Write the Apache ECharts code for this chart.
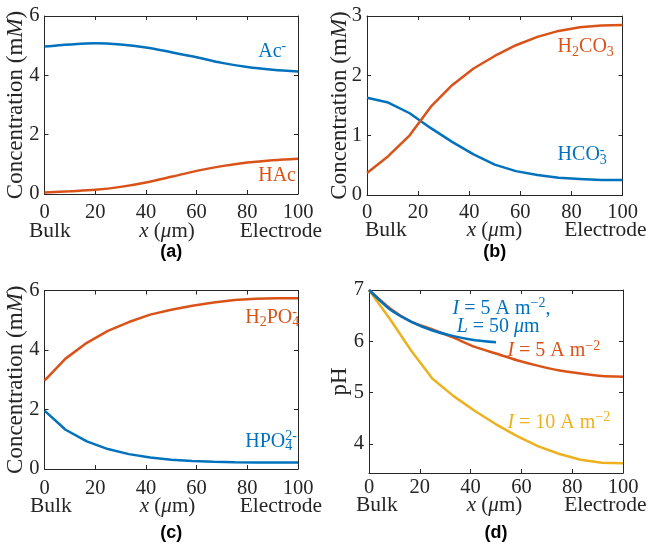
<!DOCTYPE html>
<html><head><meta charset="utf-8">
<script src="https://cdn.jsdelivr.net/npm/echarts@6/dist/echarts.min.js"></script>
<style>html,body{margin:0;padding:0;background:#fff}#c{width:650px;height:547px}</style>
</head><body><div id="c"></div>
<script>
// ---- data ----
const xA = [0, 10, 20, 30, 40, 50, 60, 70, 80, 90, 100];
const acMinus = [4.97, 5.04, 5.08, 5.04, 4.94, 4.78, 4.61, 4.42, 4.28, 4.19, 4.13];
const hAc = [0.05, 0.09, 0.14, 0.24, 0.39, 0.58, 0.78, 0.94, 1.06, 1.14, 1.19];
const xN = [0, 8.3, 16.7, 25, 33.3, 41.7, 50, 58.3, 66.7, 75, 83.3, 91.7, 100];
const h2co3 = [0.37, 0.65, 1.0, 1.48, 1.84, 2.12, 2.33, 2.51, 2.65, 2.75, 2.81, 2.84, 2.85];
const hco3 = [1.63, 1.55, 1.37, 1.12, 0.89, 0.68, 0.51, 0.40, 0.335, 0.29, 0.27, 0.25, 0.25];
const h2po4 = [2.97, 3.71, 4.24, 4.64, 4.94, 5.19, 5.35, 5.49, 5.60, 5.68, 5.72, 5.74, 5.74];
const hpo4 = [1.96, 1.32, 0.93, 0.67, 0.50, 0.39, 0.31, 0.27, 0.245, 0.23, 0.22, 0.22, 0.22];
const pH5 = [7.0, 6.64, 6.38, 6.23, 6.07, 5.89, 5.76, 5.63, 5.52, 5.43, 5.37, 5.32, 5.31];
const xL50 = [0, 8.3, 16.7, 25, 33.3, 41.7, 50];
const pH5L50 = [7.0, 6.62, 6.38, 6.21, 6.10, 6.02, 5.98];
const pH10 = [7.0, 6.43, 5.81, 5.27, 4.93, 4.64, 4.38, 4.15, 3.95, 3.80, 3.69, 3.63, 3.62];
const xTickLabels = [0, 20, 40, 60, 80, 100];
const pHTicks = [4, 5, 6, 7];
const panelLabels = ['(a)', '(b)', '(c)', '(d)'];

// ---- style ----
const F = 'Liberation Serif';
const AX = '#262626';
const BLUE = '#0072BD', ORANGE = '#D95319', YELLOW = '#EDB120';

const grids = [
  {left: 44.5, top: 16, width: 253.5, height: 178},
  {left: 367, top: 16, width: 255.5, height: 179},
  {left: 44.5, top: 290.5, width: 253.5, height: 178.5},
  {left: 369, top: 290, width: 254, height: 183}
];
const xLabelMargin = [8, 7, 9, 4];
const yRanges = [
  {min: 0, max: 6, interval: 2},
  {min: 0, max: 3, interval: 1},
  {min: 0, max: 6, interval: 2},
  {min: 3.43, max: 7, custom: pHTicks}
];

const pairs = (xs, ys) => xs.map((x, i) => [x, ys[i]]);

const xAxes = [], yAxes = [];
grids.forEach((g, i) => {
  const common = {
    gridIndex: i, type: 'value', min: 0, max: 100, interval: 20,
    axisLine: {show: true, onZero: false, lineStyle: {color: AX, width: 1}},
    axisTick: {show: true, inside: true, length: 4, lineStyle: {color: AX}},
    splitLine: {show: false}
  };
  xAxes.push(Object.assign({}, common, {position: 'bottom',
    axisLabel: {show: true, margin: xLabelMargin[i], fontFamily: F, fontSize: 20.5, color: AX,
      formatter: v => xTickLabels.includes(v) ? String(v) : ''}}));
  xAxes.push(Object.assign({}, common, {position: 'top', axisLabel: {show: false}}));
});
grids.forEach((g, i) => {
  const r = yRanges[i];
  const common = {
    gridIndex: i, type: 'value', min: r.min, max: r.max,
    axisLine: {show: true, onZero: false, lineStyle: {color: AX, width: 1}},
    axisTick: {show: true, inside: true, length: 4, lineStyle: {color: AX}},
    splitLine: {show: false}
  };
  if (r.interval) common.interval = r.interval;
  if (r.custom) common.axisTick.customValues = r.custom;
  const lab = {show: true, margin: 5, fontFamily: F, fontSize: 20.5, color: AX};
  if (r.custom) lab.customValues = r.custom;
  yAxes.push(Object.assign({}, common, {position: 'left', axisLabel: lab}));
  yAxes.push(Object.assign({}, common, {position: 'right', axisLabel: {show: false}}));
});
// primary axes are at even indices
const line = (g, xs, ys, color, smooth) => ({
  type: 'line', xAxisIndex: 2 * g, yAxisIndex: 2 * g, data: pairs(xs, ys),
  showSymbol: false, smooth: smooth || false, lineStyle: {color, width: 2.5},
  itemStyle: {color}, animation: false, z: 3
});

const series = [
  line(0, xA, acMinus, BLUE, 0.35),
  line(0, xA, hAc, ORANGE, 0.35),
  line(1, xN, hco3, BLUE, false),
  line(1, xN, h2co3, ORANGE, false),
  line(2, xN, hpo4, BLUE, false),
  line(2, xN, h2po4, ORANGE, false),
  line(3, xN, pH10, YELLOW, false),
  line(3, xN, pH5, ORANGE, 0.2),
  line(3, xL50, pH5L50, BLUE, 0.2)
];

const chart = echarts.init(document.getElementById('c'), null, {renderer: 'canvas'});
chart.setOption({animation: false, backgroundColor: '#fff', grid: grids, xAxis: xAxes, yAxis: yAxes, series});

function richFor(c, size) {
  const s = size || 20;
  const ss = Math.round(s * 0.7);
  return {
    n: {fontFamily: F, fontSize: s, lineHeight: s + 4, fill: c, color: c},
    i: {fontFamily: F, fontSize: s, lineHeight: s + 4, fontStyle: 'italic', fill: c, color: c},
    sb: {fontFamily: F, fontSize: ss, lineHeight: ss, verticalAlign: 'bottom', fill: c, color: c},
    sp: {fontFamily: F, fontSize: ss, lineHeight: ss, verticalAlign: 'top', fill: c, color: c},
    sp0: {fontFamily: F, fontSize: ss, lineHeight: ss, verticalAlign: 'top', width: 0, fill: c, color: c}
  };
}
function txt(x, y, text, color, opt) {
  opt = opt || {};
  return {
    type: 'text', x, y, rotation: opt.rot || 0, silent: true, z: 10,
    style: {text, rich: richFor(color, opt.size), fill: color, fontFamily: F,
      fontSize: opt.size || 20,
      align: opt.align || 'left', verticalAlign: 'middle',
      textAlign: opt.align || 'left', textVerticalAlign: 'middle'}
  };
}
function at(g, x, y) { return chart.convertToPixel({xAxisIndex: 2 * g, yAxisIndex: 2 * g}, [x, y]); }

const annotations = [
  [0, 84.3, 4.8, '{n|Ac}{sp|-}', BLUE],
  [0, 84.3, 0.61, '{n|HAc}', ORANGE],
  [1, 74.6, 2.48, '{n|H}{sb|2}{n|CO}{sb|3}', ORANGE],
  [1, 74.6, 0.67, '{n|HCO}{sp0|-}{sb|3}', BLUE],
  [2, 79.2, 5.1, '{n|H}{sb|2}{n|PO}{sp0|-}{sb|4}', ORANGE],
  [2, 79.2, 0.92, '{n|HPO}{sp0|2-}{sb|4}', BLUE],
  [3, 32.9, 6.64, '{i|I}{n| = 5 A m}{sp|−2}{n|,}', BLUE],
  [3, 34.5, 6.28, '{i|L}{n| = 50 }{i|μ}{n|m}', BLUE],
  [3, 54.5, 5.81, '{i|I}{n| = 5 A m}{sp|−2}', ORANGE],
  [3, 54.5, 4.41, '{i|I}{n| = 10 A m}{sp|−2}', YELLOW]
];
const graphic = [];
annotations.forEach(a => { const p = at(a[0], a[1], a[2]); graphic.push(txt(p[0], p[1], a[3], a[4])); });

// axis titles and panel captions
const yNames = ['{n|Concentration (m}{i|M}{n|)}', '{n|Concentration (m}{i|M}{n|)}', '{n|Concentration (m}{i|M}{n|)}', '{n|pH}'];
const yNameX = [16, 340, 16, 340];
const bulkX = [29, 365, 30, 356];
const elecR = [322, 646.5, 322, 646.5];
const xNameC = [167, 494.5, 167.5, 494.5];
const bottomTextY = [231.5, 230.5, 506.5, 505];
const capY = [252, 252, 533, 533];
grids.forEach((g, i) => {
  const cy = g.top + g.height / 2;
  const cx = g.left + g.width / 2;
  graphic.push(txt(yNameX[i], cy, yNames[i], AX, {rot: Math.PI / 2, align: 'center', size: 23}));
  graphic.push(txt(bulkX[i], bottomTextY[i], '{n|Bulk}', AX, {size: 21.5}));
  graphic.push(txt(elecR[i], bottomTextY[i], '{n|Electrode}', AX, {align: 'right', size: 21.5}));
  graphic.push(txt(xNameC[i], bottomTextY[i], '{i|x}{n| (}{i|μ}{n|m)}', AX, {align: 'center', size: 21}));
  graphic.push({type: 'text', x: cx, y: capY[i], silent: true,
    style: {text: panelLabels[i], fontFamily: 'Liberation Sans', fontSize: 18, fontWeight: 'bold', fill: '#000',
      align: 'center', verticalAlign: 'middle', textAlign: 'center', textVerticalAlign: 'middle'}});
});
chart.setOption({graphic});
</script>
</body></html>
